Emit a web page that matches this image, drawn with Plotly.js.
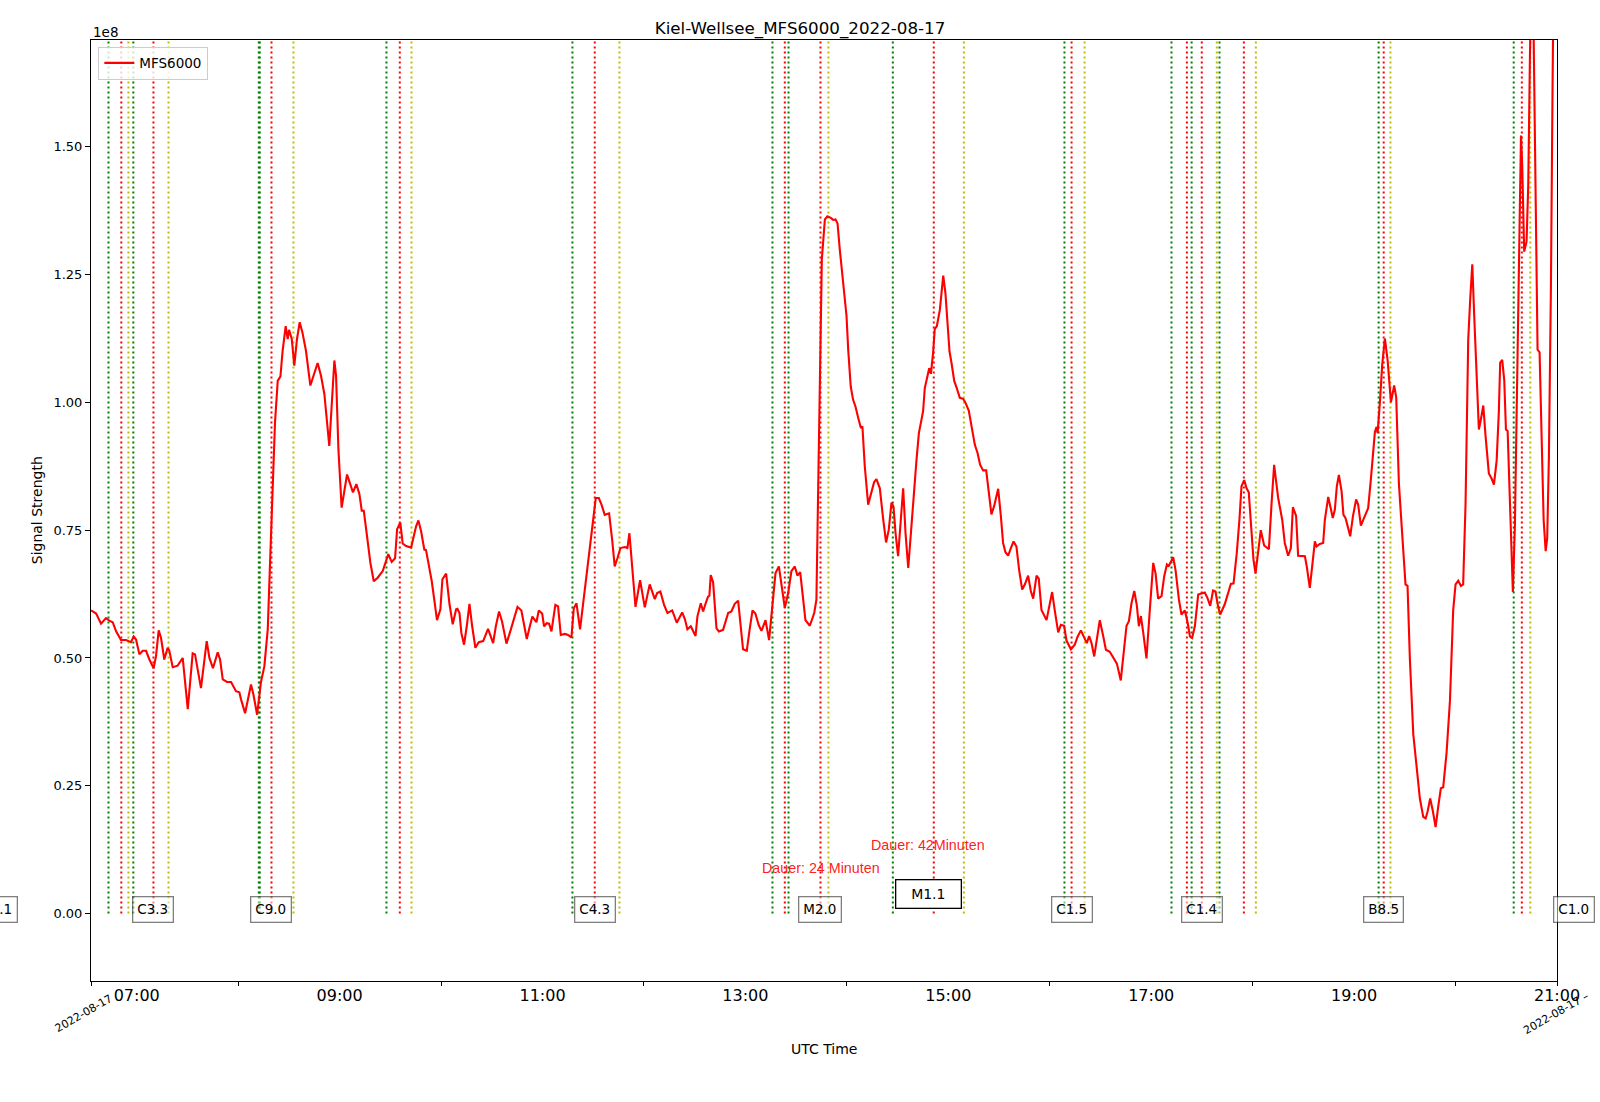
<!DOCTYPE html>
<html>
<head>
<meta charset="utf-8">
<script src="https://cdn.plot.ly/plotly-3.0.1.min.js"></script>
<style>
  html, body { margin: 0; padding: 0; background: #fff; }
  #chart { width: 1600px; height: 1102px; }
</style>
</head>
<body>
<div id="chart"></div>
<script>
// Zeit in Minuten seit 00:00 UTC (2022-08-17), Signal in Einheiten von 1e8
const curveMinutes = [
  393.0, 396.0, 398.9, 401.8, 403.8, 405.8, 407.8, 410.7, 413.7, 416.6, 418.2, 419.6, 421.6, 423.5, 425.5,
  427.5, 430.0, 431.4, 433.0, 434.4, 436.3, 438.3, 439.3, 441.3, 444.2, 447.2, 450.2, 453.1, 454.5, 458.0,
  461.4, 463.0, 465.1, 467.9, 469.3, 470.9, 473.4, 475.8, 478.7, 480.7, 481.7, 484.1, 487.6, 489.0, 491.2,
  493.5, 495.5, 497.5, 499.0, 500.6, 501.8, 503.4, 505.0, 506.3, 508.1, 509.3, 510.1, 511.7, 513.2, 514.8,
  516.4, 518.0, 520.1, 522.7, 525.1, 527.0, 529.0, 531.0, 533.9, 535.3, 536.9, 537.9, 539.3, 541.2, 542.8,
  544.4, 546.0, 547.9, 549.9, 551.7, 553.1, 554.3, 556.2, 558.2, 560.2, 562.5, 565.5, 566.9, 568.8, 570.8,
  572.8, 574.0, 575.9, 577.3, 579.3, 582.3, 584.2, 585.2, 586.6, 588.2, 590.1, 591.1, 592.5, 594.5, 596.1,
  597.6, 599.6, 600.8, 603.0, 605.0, 606.9, 608.9,
  609.7, 610.9, 612.0, 613.6, 615.2, 616.8, 618.4, 620.3, 622.3, 624.9, 627.8, 630.8, 632.4, 634.3, 636.1,
  638.7, 641.2, 643.2, 645.2, 647.5, 649.1, 650.7, 652.5, 654.0, 656.4, 657.8, 659.8, 660.9, 662.5, 663.9,
  665.3, 667.6, 669.2, 670.8, 673.2, 675.1, 677.1, 678.5, 680.1, 682.2, 685.0, 688.0, 690.0, 691.5, 693.3,
  694.9, 696.8, 699.4, 701.2, 702.7, 704.3, 706.1, 708.7, 710.2, 711.4, 713.0, 715.0, 717.7, 720.5, 723.4,
  726.4, 727.8, 729.7, 731.9, 733.9, 736.7, 739.4, 742.6, 744.2, 745.7, 747.7, 750.5, 751.6, 753.6, 755.0,
  756.4, 757.9, 758.7, 759.5, 760.9, 762.9, 764.3, 766.8, 769.8, 771.7, 773.7, 775.7, 778.6, 780.8, 782.6,
  784.2, 785.9, 787.9, 789.5, 791.9, 794.0, 796.0, 797.8, 799.8, 801.3, 803.3, 805.3, 807.2, 809.2, 810.8,
  812.4, 815.5, 818.1, 820.7, 822.0, 823.6, 825.2,
  827.0, 828.5, 830.5, 831.9, 833.3, 834.5, 835.8, 837.8, 839.8, 840.8, 842.3, 843.7, 845.1, 846.7, 848.3,
  849.2, 850.6, 852.6, 854.6, 856.1, 857.5, 859.5, 861.5, 863.2, 864.8, 866.4, 867.6, 868.8, 870.3, 871.9,
  873.3, 874.7, 876.3, 878.2, 879.8, 881.2, 882.6, 884.1, 885.1, 886.1, 887.7, 888.7, 889.7, 891.0, 892.0,
  893.2, 895.0, 896.0, 897.0, 898.3, 899.5, 900.7, 901.9, 903.5, 905.0, 906.8, 908.8, 910.2, 912.1, 913.7,
  915.7, 917.3, 918.8, 920.6, 922.4, 924.0, 925.5, 927.1, 929.5, 931.1, 932.4, 933.8, 935.4, 937.0, 938.6,
  940.3, 941.9, 943.7, 945.3, 947.2, 948.8, 950.2, 952.2, 953.5, 955.1, 958.1, 960.1, 961.4, 963.0, 965.0,
  966.6, 968.5, 969.9, 972.5, 974.8, 976.4, 978.4, 980.4, 981.9, 983.3, 984.7, 986.3, 987.7, 989.6, 991.6,
  993.2, 995.5, 998.1, 999.7, 1002.0, 1003.6, 1005.4, 1006.8, 1008.4, 1010.0, 1011.5, 1012.7, 1013.9, 1015.3, 1017.2,
  1019.2, 1021.2, 1022.6, 1024.1, 1026.1, 1027.7, 1029.3, 1030.4, 1033.0, 1034.4, 1036.4, 1037.9, 1039.9, 1041.5, 1042.9,
  1044.2,
  1045.8, 1047.8, 1049.7, 1051.7, 1053.3, 1054.9, 1056.6, 1058.0, 1059.6, 1060.8, 1063.5, 1065.5, 1067.1, 1068.7, 1070.6,
  1072.2, 1073.4, 1075.0, 1076.4, 1077.7, 1079.3, 1080.5, 1081.7, 1083.3, 1084.8, 1086.8, 1088.2, 1089.6, 1091.2, 1092.7,
  1093.9, 1095.1, 1097.5, 1099.0, 1101.0, 1102.6, 1103.8, 1105.7, 1106.9, 1108.9, 1110.9, 1112.0, 1113.8, 1115.2, 1116.8,
  1117.8, 1119.7, 1121.7, 1122.7, 1124.7, 1126.2, 1127.4, 1128.6, 1129.8, 1131.0, 1132.6, 1133.7, 1134.9, 1136.5, 1137.7,
  1139.3, 1141.2, 1142.4, 1144.0, 1145.4, 1146.8, 1148.3, 1149.9, 1151.3, 1152.3, 1153.3, 1153.9,
  1155.3, 1156.6, 1158.2, 1159.8, 1161.8, 1163.7, 1164.9, 1166.5, 1168.1, 1170.4, 1171.6, 1173.0, 1175.0, 1177.0, 1178.9,
  1180.9, 1182.3, 1183.5, 1185.0, 1186.6, 1188.2, 1189.8, 1191.3, 1192.7, 1194.7, 1196.7, 1198.6, 1200.0, 1201.6, 1203.2,
  1204.5, 1205.9, 1207.5, 1208.7, 1209.9, 1211.1, 1212.4, 1213.8, 1215.0, 1216.4, 1217.8, 1219.7, 1221.3, 1222.7, 1224.3,
  1225.6, 1226.4, 1227.6, 1228.8, 1229.8, 1230.8, 1232.2, 1233.1, 1233.9, 1235.1, 1236.7, 1237.9, 1238.7, 1239.4, 1240.6,
  1242.0, 1243.0, 1244.0, 1244.8, 1245.8, 1246.5, 1247.3, 1248.5, 1249.7, 1250.9, 1252.1, 1253.3, 1254.2, 1255.2, 1256.4,
  1257.4, 1258.2, 1260.0
];
const curveValues = [
  0.593, 0.587, 0.567, 0.578, 0.573, 0.570, 0.552, 0.535, 0.535, 0.531, 0.542, 0.536, 0.507, 0.514, 0.514,
  0.497, 0.480, 0.503, 0.554, 0.539, 0.497, 0.520, 0.514, 0.482, 0.485, 0.500, 0.400, 0.509, 0.507, 0.441,
  0.533, 0.500, 0.480, 0.511, 0.497, 0.458, 0.453, 0.453, 0.435, 0.433, 0.419, 0.392, 0.448, 0.429, 0.389,
  0.453, 0.484, 0.556, 0.699, 0.863, 0.961, 1.042, 1.051, 1.101, 1.149, 1.124, 1.142, 1.124, 1.072, 1.124,
  1.157, 1.137, 1.101, 1.033, 1.059, 1.077, 1.052, 1.016, 0.915, 0.994, 1.082, 1.052, 0.908, 0.794, 0.830,
  0.859, 0.843, 0.824, 0.840, 0.821, 0.788, 0.788, 0.739, 0.686, 0.650, 0.657, 0.670, 0.686, 0.703, 0.688,
  0.695, 0.752, 0.765, 0.724, 0.719, 0.716, 0.742, 0.757, 0.769, 0.748, 0.712, 0.711, 0.686, 0.650, 0.611,
  0.574, 0.595, 0.654, 0.665, 0.605, 0.566, 0.595,
  0.596, 0.588, 0.549, 0.526, 0.562, 0.606, 0.562, 0.520, 0.531, 0.533, 0.557, 0.529, 0.562, 0.591, 0.571,
  0.528, 0.555, 0.578, 0.600, 0.593, 0.562, 0.537, 0.562, 0.581, 0.570, 0.593, 0.587, 0.562, 0.568, 0.567,
  0.552, 0.604, 0.601, 0.545, 0.547, 0.545, 0.540, 0.597, 0.607, 0.556, 0.633, 0.711, 0.770, 0.813, 0.813,
  0.800, 0.780, 0.783, 0.731, 0.679, 0.695, 0.715, 0.717, 0.715, 0.744, 0.686, 0.600, 0.652, 0.599, 0.644,
  0.615, 0.627, 0.630, 0.604, 0.588, 0.593, 0.569, 0.589, 0.576, 0.556, 0.562, 0.543, 0.581, 0.607, 0.591,
  0.606, 0.620, 0.622, 0.662, 0.648, 0.558, 0.552, 0.555, 0.588, 0.591, 0.606, 0.612, 0.517, 0.514, 0.558,
  0.593, 0.587, 0.564, 0.553, 0.574, 0.535, 0.601, 0.666, 0.679, 0.640, 0.598, 0.627, 0.670, 0.679, 0.661,
  0.668, 0.574, 0.563, 0.588, 0.614, 0.930, 1.280,
  1.358, 1.364, 1.361, 1.357, 1.358, 1.350, 1.300, 1.227, 1.169, 1.103, 1.031, 1.005, 0.992, 0.970, 0.950,
  0.953, 0.875, 0.800, 0.823, 0.844, 0.850, 0.832, 0.771, 0.726, 0.751, 0.804, 0.796, 0.744, 0.699, 0.771,
  0.832, 0.744, 0.676, 0.758, 0.836, 0.888, 0.940, 0.963, 0.983, 1.028, 1.057, 1.067, 1.056, 1.097, 1.144,
  1.149, 1.181, 1.217, 1.248, 1.214, 1.162, 1.100, 1.077, 1.042, 1.028, 1.009, 1.007, 0.999, 0.984, 0.953,
  0.917, 0.901, 0.878, 0.867, 0.867, 0.823, 0.781, 0.797, 0.831, 0.777, 0.725, 0.707, 0.700, 0.715, 0.728,
  0.718, 0.672, 0.634, 0.644, 0.661, 0.631, 0.616, 0.661, 0.655, 0.594, 0.574, 0.608, 0.629, 0.592, 0.550,
  0.565, 0.563, 0.534, 0.517, 0.526, 0.541, 0.554, 0.541, 0.529, 0.543, 0.529, 0.503, 0.537, 0.574, 0.543,
  0.516, 0.512, 0.496, 0.489, 0.456, 0.510, 0.563, 0.572, 0.608, 0.631, 0.603, 0.562, 0.582, 0.549, 0.499,
  0.595, 0.686, 0.665, 0.616, 0.621, 0.660, 0.683, 0.680, 0.697, 0.672, 0.614, 0.585, 0.593, 0.570, 0.542,
  0.539,
  0.562, 0.624, 0.626, 0.628, 0.617, 0.602, 0.632, 0.630, 0.600, 0.585, 0.605, 0.627, 0.645, 0.646, 0.705,
  0.771, 0.836, 0.848, 0.832, 0.824, 0.750, 0.692, 0.665, 0.712, 0.750, 0.720, 0.717, 0.713, 0.803, 0.878,
  0.845, 0.813, 0.770, 0.725, 0.700, 0.715, 0.795, 0.778, 0.700, 0.699, 0.699, 0.679, 0.637, 0.679, 0.728,
  0.718, 0.723, 0.725, 0.770, 0.815, 0.790, 0.774, 0.790, 0.836, 0.858, 0.826, 0.780, 0.774, 0.754, 0.738,
  0.777, 0.810, 0.800, 0.759, 0.770, 0.780, 0.793, 0.849, 0.907, 0.942, 0.952, 0.940,
  1.002, 1.073, 1.125, 1.083, 1.000, 1.033, 1.010, 0.841, 0.760, 0.644, 0.641, 0.497, 0.351, 0.285, 0.225,
  0.189, 0.186, 0.200, 0.225, 0.200, 0.169, 0.210, 0.245, 0.247, 0.315, 0.417, 0.593, 0.644, 0.651, 0.641,
  0.644, 0.800, 1.123, 1.204, 1.270, 1.164, 1.043, 0.947, 0.967, 0.994, 0.932, 0.861, 0.851, 0.839, 0.886,
  0.982, 1.078, 1.083, 1.043, 0.947, 0.944, 0.800, 0.669, 0.629, 0.760, 1.103, 1.346, 1.522, 1.467, 1.295,
  1.315, 1.426, 1.679, 1.820, 1.820, 1.639, 1.426, 1.103, 1.098, 0.922, 0.770, 0.709, 0.734, 0.891, 1.224,
  1.628, 1.900, 1.950
];

// Flare-Zeiten (Minuten): Beginn (gruen), Maximum (rot), Ende (gelb)
const startMinutes = [403.3, 418.0, 492.2, 492.8, 567.7, 677.7, 796.0, 805.5, 867.2, 968.7, 1032.0, 1043.9, 1060.4, 1154.5, 1234.4];
const peakMinutes = [410.9, 429.9, 499.7, 575.6, 690.9, 803.3, 824.4, 891.4, 972.9, 1041.1, 1049.9, 1074.8, 1157.5, 1239.2];
const endMinutes = [415.1, 438.8, 512.7, 582.5, 705.5, 829.1, 909.2, 980.6, 1058.8, 1081.9, 1161.5, 1244.2];

// Flare-Klassen am Maximum
const classLabels = ["C1.1", "C3.3", "C9.0", "C4.3", "M2.0", "C1.5", "C1.4", "B8.5", "C1.0"];
const classMinutes = [337.6, 429.9, 499.7, 690.9, 824.4, 972.9, 1049.9, 1157.5, 1269.9];

// M-Flare mit Dauer
const mLabel = "M1.1";
const mLabelMinute = 888.2;
const mLabelValue = 0.038;
const durationTexts = ["Dauer: 24 Minuten", "Dauer: 42Minuten"];
const durationMinutes = [824.9, 888.2];
const durationValues = [0.089, 0.134];

const yTicks = [0, 0.25, 0.5, 0.75, 1.0, 1.25, 1.5];
const labelHours = ["07:00", "09:00", "11:00", "13:00", "15:00", "17:00", "19:00", "21:00"];
const minorHours = ["08:00", "10:00", "12:00", "14:00", "16:00", "18:00", "20:00"];

const xStart = 392.97;
const xEnd = 1260.0;
const yRange = [-0.132, 1.709];

function toTime(min) {
  const s = Math.round(min * 60);
  const hh = String(Math.floor(s / 3600)).padStart(2, "0");
  const mm = String(Math.floor((s % 3600) / 60)).padStart(2, "0");
  const ss = String(s % 60).padStart(2, "0");
  return "2022-08-17 " + hh + ":" + mm + ":" + ss;
}

const DAY = "2022-08-17 ";
const font = "DejaVu Sans, Verdana, sans-serif";

const trace = {
  x: curveMinutes.map(toTime),
  y: curveValues,
  type: "scatter",
  mode: "lines",
  name: "MFS6000",
  line: { color: "#ff0000", width: 2.1 },
};

// senkrechte Linien fuer Beginn / Maximum / Ende
const shapes = [];
function addLines(mins, color) {
  mins.forEach((m) => {
    shapes.push({
      type: "line", xref: "x", yref: "y",
      x0: toTime(m), x1: toTime(m), y0: 0, y1: yRange[1],
      line: { color: color, width: 2, dash: "2px,3px" },
      layer: "below",
    });
  });
}
addLines(startMinutes, "#008000");
addLines(peakMinutes, "#ff0000");
addLines(endMinutes, "#bfbf00");

const annotations = [];
classLabels.forEach((txt, i) => {
  const m = classMinutes[i];
  const inside = m >= xStart && m <= xEnd;
  annotations.push({
    text: txt,
    xref: inside ? "x" : "paper",
    x: inside ? toTime(m) : (m - xStart) / (xEnd - xStart),
    yref: "y", y: 0, yshift: 4,
    xanchor: "center", yanchor: "middle",
    showarrow: false,
    font: { family: font, size: 13.5, color: "#000" },
    bgcolor: "rgba(255,255,255,0.5)",
    bordercolor: "rgba(0,0,0,0.5)",
    borderwidth: 1.3,
    borderpad: 4,
  });
});

annotations.push({
  text: mLabel,
  xref: "x", x: toTime(mLabelMinute), yref: "y", y: mLabelValue,
  xanchor: "center", yanchor: "middle", showarrow: false,
  width: 54, height: 17,
  font: { family: font, size: 14, color: "#000" },
  bgcolor: "#ffffff", bordercolor: "#000000", borderwidth: 1.3, borderpad: 5,
});

durationTexts.forEach((txt, i) => {
  annotations.push({
    text: txt,
    xref: "x", x: toTime(durationMinutes[i]), yref: "y", y: durationValues[i],
    xanchor: "center", yanchor: "middle", showarrow: false,
    font: { family: "Liberation Sans, Arial, sans-serif", size: 14.3, color: "rgba(255,0,0,0.9)" },
  });
});

// Achsentitel, Exponent und Datumsmarken
annotations.push(
  { text: "1e8", xref: "paper", x: 0, xanchor: "left", yref: "paper", y: 1.0088, yanchor: "middle",
    showarrow: false, font: { family: font, size: 13.5, color: "#000" } },
  { text: "UTC Time", xref: "paper", x: 0.5, xanchor: "center", yref: "paper", y: -0.0723, yanchor: "middle",
    showarrow: false, font: { family: font, size: 14, color: "#000" } },
  { text: "Signal Strength", xref: "paper", x: -0.037, xanchor: "center", yref: "paper", y: 0.5, yanchor: "middle",
    textangle: -90, showarrow: false, font: { family: font, size: 14, color: "#000" } },
  { text: "2022-08-17", xref: "x", x: toTime(xStart), xshift: -7, yref: "paper", y: -0.035,
    xanchor: "center", yanchor: "middle", textangle: -30, showarrow: false,
    font: { family: font, size: 11, color: "#000" } },
  { text: "2022-08-17 \u2013", xref: "x", x: toTime(xEnd), xshift: -1, yref: "paper", y: -0.035,
    xanchor: "center", yanchor: "middle", textangle: -30, showarrow: false,
    font: { family: font, size: 11, color: "#000" } }
);

const layout = {
  width: 1600,
  height: 1102,
  margin: { l: 91, r: 43, t: 40, b: 121 },
  paper_bgcolor: "#ffffff",
  plot_bgcolor: "#ffffff",
  font: { family: font, color: "#000" },
  title: {
    text: "Kiel-Wellsee_MFS6000_2022-08-17",
    x: 0.5, xref: "container", y: 1 - 28.6 / 1102, yanchor: "middle",
    font: { family: font, size: 16.7, color: "#000" },
  },
  showlegend: true,
  legend: {
    x: 0.005, y: 0.993, xanchor: "left", yanchor: "top",
    bgcolor: "rgba(255,255,255,0.8)", bordercolor: "#cccccc", borderwidth: 1,
    font: { family: font, size: 13.5, color: "#000" },
  },
  xaxis: {
    type: "date",
    range: [toTime(xStart), toTime(xEnd)],
    tickmode: "array",
    tickvals: labelHours.map((h) => DAY + h),
    ticktext: labelHours,
    ticks: "outside", ticklen: 0,
    tickfont: { family: font, size: 16, color: "#000" },
    minor: {
      tickmode: "array",
      tickvals: [toTime(xStart)].concat(minorHours.map((h) => DAY + h), [toTime(xEnd)]),
      ticks: "outside", ticklen: 4, tickwidth: 1, tickcolor: "#000",
    },
    showgrid: false, zeroline: false,
    showline: true, linecolor: "#000", linewidth: 1, mirror: true,
    fixedrange: true,
  },
  yaxis: {
    range: yRange,
    tickmode: "array",
    tickvals: yTicks,
    tickformat: ".2f",
    ticks: "outside", ticklen: 5, tickwidth: 1, tickcolor: "#000",
    tickfont: { family: font, size: 13, color: "#000" },
    showgrid: false, zeroline: false,
    showline: true, linecolor: "#000", linewidth: 1, mirror: true,
    fixedrange: true,
  },
  shapes: shapes,
  annotations: annotations,
};

Plotly.newPlot("chart", [trace], layout, { displayModeBar: false, staticPlot: true });
</script>
</body>
</html>
